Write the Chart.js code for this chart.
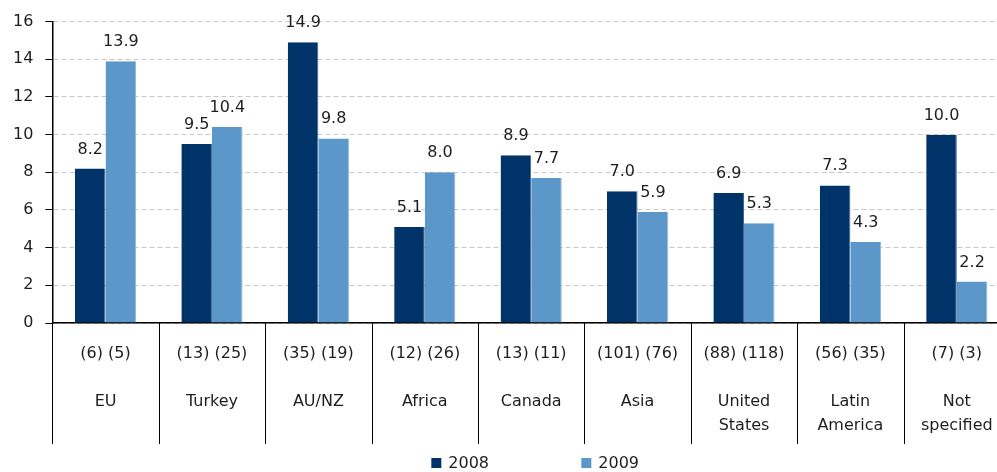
<!DOCTYPE html>
<html>
<head>
<meta charset="utf-8">
<script src="https://cdn.jsdelivr.net/npm/chart.js@4/dist/chart.umd.min.js"></script>
<style>
  html, body { margin: 0; padding: 0; background: #fff; overflow: hidden; }
  #chart { display: block; }
</style>
</head>
<body>
<canvas id="chart" width="1010" height="472"></canvas>
<script>
// --- Data ---
const regions = ['EU', 'Turkey', 'AU/NZ', 'Africa', 'Canada', 'Asia', ['United', 'States'], ['Latin', 'America'], ['Not', 'specified']];
const counts2008 = [6, 13, 35, 12, 13, 101, 88, 56, 7];
const counts2009 = [5, 25, 19, 26, 11, 76, 118, 35, 3];
const values2008 = [8.2, 9.5, 14.9, 5.1, 8.9, 7.0, 6.9, 7.3, 10.0];
const values2009 = [13.9, 10.4, 9.8, 8.0, 7.7, 5.9, 5.3, 4.3, 2.2];
const yTicks = [0, 2, 4, 6, 8, 10, 12, 14, 16];

const seriesNames = ['2008', '2009'];
const seriesColors = ['#003469', '#5b97c8'];
const seriesEdges = ['#3d6592', '#8fb9de'];
const textColor = '#1e1e1e';
const fontFamily = '"DejaVu Sans", Verdana, sans-serif';

// Multi-line category labels: "(n) (n)", blank line, region name
const labels = regions.map((r, i) => {
    const name = Array.isArray(r) ? r : [r];
    return [`(${counts2008[i]}) (${counts2009[i]})`, ''].concat(name);
});

// Value labels above each bar
const valueLabels = {
    id: 'valueLabels',
    afterDatasetsDraw(chart) {
        const ctx = chart.ctx;
        ctx.save();
        ctx.font = `16px ${fontFamily}`;
        ctx.fillStyle = textColor;
        ctx.textAlign = 'center';
        ctx.textBaseline = 'alphabetic';
        chart.data.datasets.forEach((ds, di) => {
            chart.getDatasetMeta(di).data.forEach((bar, i) => {
                ctx.fillText(ds.data[i].toFixed(1), bar.x, bar.y - 15);
            });
        });
        ctx.restore();
    }
};

// Vertical separators between the categories, hanging below the x axis
const categoryDividers = {
    id: 'categoryDividers',
    afterDraw(chart) {
        const ctx = chart.ctx;
        const xs = chart.scales.x;
        const area = chart.chartArea;
        const n = chart.data.labels.length;
        ctx.save();
        ctx.strokeStyle = '#000';
        ctx.lineWidth = 1;
        ctx.beginPath();
        for (let i = 0; i <= n; i++) {
            let x;
            if (i === 0) x = area.left;
            else if (i === n) x = area.right;
            else x = (xs.getPixelForValue(i - 1) + xs.getPixelForValue(i)) / 2;
            x = Math.round(x) + 0.5;
            ctx.moveTo(x, area.bottom);
            ctx.lineTo(x, area.bottom + 121);
        }
        ctx.stroke();
        ctx.restore();
    }
};

// Simple legend centred under the plot
const bottomLegend = {
    id: 'bottomLegend',
    afterDraw(chart) {
        const ctx = chart.ctx;
        const area = chart.chartArea;
        const box = 10, gap = 7, step = 150;
        ctx.save();
        ctx.font = `16px ${fontFamily}`;
        ctx.textBaseline = 'middle';
        ctx.textAlign = 'left';
        const itemW = box + gap + ctx.measureText(seriesNames[1]).width;
        const total = step * (seriesNames.length - 1) + itemW;
        let x = (area.left + area.right) / 2 - total / 2 + 4;
        const y = 463;
        chart.data.datasets.forEach((ds) => {
            ctx.fillStyle = ds.backgroundColor;
            ctx.fillRect(x, y - box / 2, box, box);
            ctx.fillStyle = textColor;
            ctx.fillText(ds.label, x + box + gap, y + 1);
            x += step;
        });
        ctx.restore();
    }
};

new Chart(document.getElementById('chart'), {
    type: 'bar',
    data: {
        labels: labels,
        datasets: seriesNames.map((name, i) => ({
            label: name,
            data: i === 0 ? values2008 : values2009,
            backgroundColor: seriesColors[i],
            borderColor: seriesEdges[i],
            borderWidth: { top: 0, left: 0, right: 1, bottom: 0 },
            categoryPercentage: 0.575,
            barPercentage: 1.0
        }))
    },
    options: {
        responsive: false,
        animation: false,
        layout: { padding: { top: 20, left: 1, right: 0, bottom: 23 } },
        plugins: {
            legend: { display: false },
            tooltip: { enabled: false }
        },
        scales: {
            x: {
                offset: true,
                grid: { display: false },
                border: { display: true, color: '#000', width: 1.5 },
                ticks: {
                    padding: 11,
                    color: textColor,
                    maxRotation: 0,
                    autoSkip: false,
                    font: { family: fontFamily, size: 16, lineHeight: 1.5 }
                }
            },
            y: {
                min: yTicks[0],
                max: yTicks[yTicks.length - 1],
                afterBuildTicks(scale) {
                    scale.ticks = yTicks.map(v => ({ value: v }));
                },
                grid: {
                    color: '#c8c8c8',
                    tickColor: '#000',
                    tickLength: 7,
                    tickBorderDash: []
                },
                border: { display: true, color: '#000', width: 1.5, dash: [5, 3] },
                ticks: {
                    padding: 12,
                    color: textColor,
                    font: { family: fontFamily, size: 16 }
                }
            }
        }
    },
    plugins: [valueLabels, categoryDividers, bottomLegend]
});
</script>
</body>
</html>
